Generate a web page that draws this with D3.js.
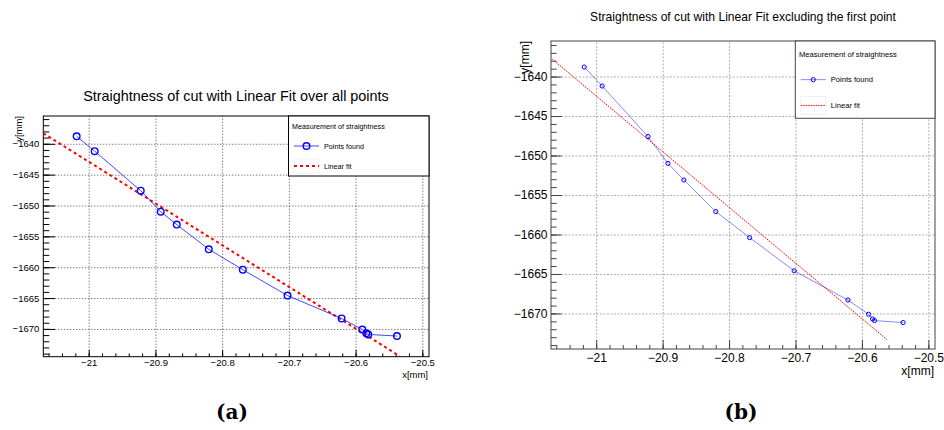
<!DOCTYPE html>
<html>
<head>
<meta charset="utf-8">
<script src="https://cdn.jsdelivr.net/npm/d3@7"></script>
<style>
  body { margin: 0; background: #fff; }
  text { font-family: "Liberation Sans", Arial, sans-serif; fill: #000; }
</style>
</head>
<body>
<div id="chart"></div>
<script>
// Points found along the cut (same points in both panels)
var xPoints = [-21.018, -20.991, -20.922, -20.892, -20.868, -20.820, -20.769,
               -20.702, -20.621, -20.590, -20.584, -20.581, -20.538];
var yPoints = [-1638.8, -1641.2, -1647.6, -1651.0, -1653.1, -1657.1, -1660.4,
               -1664.6, -1668.3, -1670.1, -1670.7, -1670.9, -1671.15];

// Linear fits, given by the two end points of the drawn segment
var fitAllX = [-21.068, -20.534];
var fitAllY = [-1638.3, -1674.4];
var fitExclX = [-21.066, -20.5625];
var fitExclY = [-1637.8, -1673.3];

// Axes
var xTicks = [-21, -20.9, -20.8, -20.7, -20.6, -20.5];
var yTicks = [-1670, -1665, -1660, -1655, -1650, -1645, -1640];
var xDomain = [-21.068, -20.49];
var yDomain = [-1674.5, -1635.5];

var legendTitle = "Measurement of straightness";
var legendLabels = ["Points found", "Linear fit"];

var svg = d3.select("#chart").append("svg")
    .attr("width", 944)
    .attr("height", 430);

// layout and styles of the two panels
var panels = [
  { name: "a", left: 43.3, top: 116, width: 385.7, height: 240.7,
    title: "Straightness of cut with Linear Fit over all points",
    titleX: 236, titleY: 101, titleSize: 14.4,
    tickFont: 9.5, axisFont: 9.5, yTick: [11.7, 6], xTick: [6.7, 3.3],
    yPad: 4, xPad: 2.5, tickColor: "#000", frameColor: "#000",
    gridColor: "#333", gridDash: "1,2", gridWidth: 0.9,
    r: 3.3, markerWidth: 1.4, lineWidth: 0.9, lineOpacity: 0.8,
    fitWidth: 2, fitDash: "3,3", fitX: fitAllX, fitY: fitAllY,
    legend: { x0: 288.5, y0: 116, x1: 429, y1: 176, font: 7.2 },
    yTitleX: 21.5, xTitleY: 378, caption: "(a)", capX: 232 },
  { name: "b", left: 551, top: 41, width: 384, height: 308,
    title: "Straightness of cut with Linear Fit excluding the first point",
    titleX: 743, titleY: 21, titleSize: 12.1,
    tickFont: 12, axisFont: 12, yTick: [10.7, 5.7], xTick: [9, 4],
    yPad: 3.5, xPad: 4, tickColor: "#444", frameColor: "#444",
    gridColor: "#999", gridDash: "2,1.5", gridWidth: 0.8,
    r: 2.1, markerWidth: 1, lineWidth: 0.8, lineOpacity: 0.6,
    fitWidth: 1, fitDash: "1.5,1", fitX: fitExclX, fitY: fitExclY,
    legend: { x0: 795.3, y0: 41, x1: 935, y1: 118.3, font: 7.6 },
    yTitleX: 528.5, xTitleY: 374.5, caption: "(b)", capX: 741 }
];

panels.forEach(function (p) {
  var x = d3.scaleLinear().domain(xDomain).range([p.left, p.left + p.width]);
  var y = d3.scaleLinear().domain(yDomain).range([p.top + p.height, p.top]);
  var g = svg.append("g");

  // title
  g.append("text")
      .attr("x", p.titleX).attr("y", p.titleY)
      .attr("text-anchor", "middle")
      .style("font-size", p.titleSize + "px")
      .text(p.title);

  // grid
  g.append("g")
      .attr("transform", "translate(0," + (p.top + p.height) + ")")
      .call(d3.axisBottom(x).tickValues(xTicks).tickSize(-p.height).tickFormat(""))
      .call(function (s) { s.select(".domain").remove(); })
      .selectAll("line")
      .attr("stroke", p.gridColor).attr("stroke-width", p.gridWidth)
      .attr("stroke-dasharray", p.gridDash);
  g.append("g")
      .attr("transform", "translate(" + p.left + ",0)")
      .call(d3.axisLeft(y).tickValues(yTicks).tickSize(-p.width).tickFormat(""))
      .call(function (s) { s.select(".domain").remove(); })
      .selectAll("line")
      .attr("stroke", p.gridColor).attr("stroke-width", p.gridWidth)
      .attr("stroke-dasharray", p.gridDash);

  // minor ticks
  var xMinor = d3.range(-1053, -1024).map(function (i) { return i * 0.02; });
  var yMinor = d3.range(-1674, -1635);
  g.append("g")
      .attr("transform", "translate(0," + (p.top + p.height) + ")")
      .call(d3.axisBottom(x).tickValues(xMinor).tickSize(-p.xTick[1]).tickFormat(""))
      .call(function (s) { s.select(".domain").remove(); })
      .selectAll("line").attr("stroke", p.tickColor);
  g.append("g")
      .attr("transform", "translate(" + p.left + ",0)")
      .call(d3.axisLeft(y).tickValues(yMinor).tickSize(-p.yTick[1]).tickFormat(""))
      .call(function (s) { s.select(".domain").remove(); })
      .selectAll("line").attr("stroke", p.tickColor);

  // major ticks and labels
  var xAxis = g.append("g")
      .attr("transform", "translate(0," + (p.top + p.height) + ")")
      .call(d3.axisBottom(x).tickValues(xTicks).tickSize(-p.xTick[0])
            .tickPadding(p.xPad).tickFormat(d3.format("~g")));
  var yAxis = g.append("g")
      .attr("transform", "translate(" + p.left + ",0)")
      .call(d3.axisLeft(y).tickValues(yTicks).tickSize(-p.yTick[0])
            .tickPadding(p.yPad).tickFormat(d3.format("d")));
  [xAxis, yAxis].forEach(function (a) {
    a.select(".domain").remove();
    a.selectAll("line").attr("stroke", p.tickColor);
    a.selectAll("text").style("font-size", p.tickFont + "px")
        .style("font-family", "'Liberation Sans', Arial, sans-serif").attr("fill", "#000");
  });

  // frame
  g.append("rect")
      .attr("x", p.left).attr("y", p.top)
      .attr("width", p.width).attr("height", p.height)
      .attr("fill", "none").attr("stroke", p.frameColor).attr("stroke-width", 1);

  // axis titles
  g.append("text")
      .attr("x", p.left + p.width - 1).attr("y", p.xTitleY)
      .attr("text-anchor", "end")
      .style("font-size", p.axisFont + "px")
      .text("x[mm]");
  g.append("text")
      .attr("transform", "translate(" + p.yTitleX + "," + p.top + ") rotate(-90)")
      .attr("text-anchor", "end")
      .style("font-size", p.axisFont + "px")
      .text("y[mm]");

  // clip for the plotted data
  var clipId = "clip-" + p.name;
  g.append("clipPath").attr("id", clipId)
    .append("rect")
      .attr("x", p.left).attr("y", p.top)
      .attr("width", p.width).attr("height", p.height);
  var plot = g.append("g").attr("clip-path", "url(#" + clipId + ")");

  // linear fit
  var fitPts = p.fitX.map(function (d, i) { return [d, p.fitY[i]]; });
  plot.append("path")
      .datum(fitPts)
      .attr("d", d3.line().x(function (d) { return x(d[0]); }).y(function (d) { return y(d[1]); }))
      .attr("fill", "none").attr("stroke", "#ff0000")
      .attr("stroke-width", p.fitWidth).attr("stroke-dasharray", p.fitDash);

  // points found
  var pts = xPoints.map(function (d, i) { return [d, yPoints[i]]; });
  plot.append("path")
      .datum(pts)
      .attr("d", d3.line().x(function (d) { return x(d[0]); }).y(function (d) { return y(d[1]); }))
      .attr("fill", "none").attr("stroke", "#0000ff")
      .attr("stroke-width", p.lineWidth).attr("stroke-opacity", p.lineOpacity);
  plot.selectAll("circle.pt")
      .data(pts)
      .enter().append("circle")
      .attr("class", "pt")
      .attr("cx", function (d) { return x(d[0]); })
      .attr("cy", function (d) { return y(d[1]); })
      .attr("r", p.r)
      .attr("fill", "none").attr("stroke", "#0000ff")
      .attr("stroke-width", p.markerWidth);

  // legend
  var L = p.legend, rowH = (L.y1 - L.y0) / 3;
  var lg = g.append("g");
  lg.append("rect")
      .attr("x", L.x0).attr("y", L.y0)
      .attr("width", L.x1 - L.x0).attr("height", L.y1 - L.y0)
      .attr("fill", "#fff").attr("stroke", p.frameColor).attr("stroke-width", 1);
  function rowY(i) { return L.y0 + rowH * (i + 0.5); }
  lg.append("text")
      .attr("x", L.x0 + 3.6).attr("y", rowY(0) + L.font * 0.35)
      .style("font-size", L.font + "px").attr("fill", "#222")
      .text(legendTitle);
  // entry: points found
  lg.append("line")
      .attr("x1", L.x0 + 5.5).attr("x2", L.x0 + 30.5)
      .attr("y1", rowY(1)).attr("y2", rowY(1))
      .attr("stroke", "#0000ff").attr("stroke-width", p.lineWidth)
      .attr("stroke-opacity", p.lineOpacity);
  lg.append("circle")
      .attr("cx", L.x0 + 18).attr("cy", rowY(1)).attr("r", p.r)
      .attr("fill", "none").attr("stroke", "#0000ff").attr("stroke-width", p.markerWidth);
  // entry: linear fit
  lg.append("rect")
      .attr("x", L.x0 + 5.5).attr("y", rowY(2) - rowH * 0.35)
      .attr("width", 25).attr("height", rowH * 0.7)
      .attr("fill", "none").attr("stroke", "#eee").attr("stroke-width", 0.8);
  lg.append("line")
      .attr("x1", L.x0 + 5.5).attr("x2", L.x0 + 30.5)
      .attr("y1", rowY(2)).attr("y2", rowY(2))
      .attr("stroke", "#ff0000").attr("stroke-width", p.fitWidth)
      .attr("stroke-dasharray", p.fitDash);
  legendLabels.forEach(function (t, i) {
    lg.append("text")
        .attr("x", L.x0 + 35.5).attr("y", rowY(i + 1) + L.font * 0.35)
        .style("font-size", L.font + "px").attr("fill", "#222")
        .text(t);
  });

  // sub-figure caption
  g.append("text")
      .attr("x", p.capX).attr("y", 419)
      .attr("text-anchor", "middle")
      .style("font-family", "'DejaVu Serif', serif")
      .style("font-weight", "bold")
      .style("font-size", "20px")
      .text(p.caption);
});
</script>
</body>
</html>
